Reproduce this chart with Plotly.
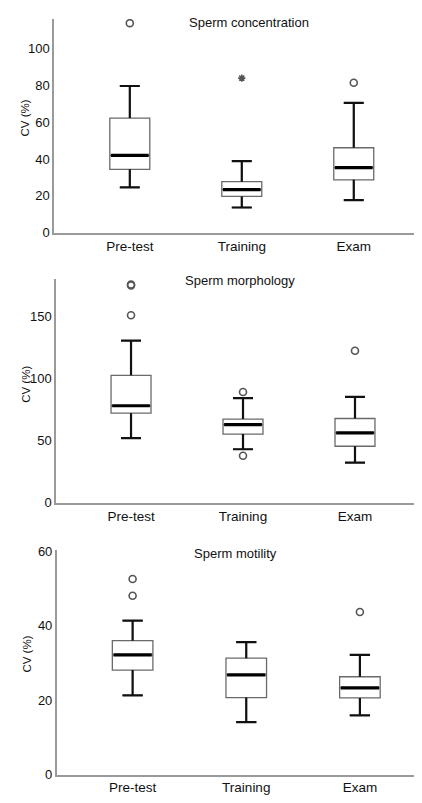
import plotly.graph_objects as go

categories = ["Pre-test", "Training", "Exam"]
xpos = [0, 1, 2]

# Sperm concentration
conc_lower = [24.6, 13.7, 17.7]
conc_q1 = [34.4, 19.7, 28.7]
conc_median = [42.0, 23.4, 35.3]
conc_q3 = [62.2, 27.7, 46.1]
conc_upper = [79.6, 38.8, 70.4]
conc_out_x = [0, 2]
conc_out_y = [113.7, 81.4]
conc_ext_x = [1]
conc_ext_y = [83.9]

# Sperm morphology
morph_lower = [52.2, 43.2, 32.4]
morph_q1 = [72.3, 55.4, 45.6]
morph_median = [78.3, 63.0, 56.4]
morph_q3 = [102.8, 67.5, 68.0]
morph_upper = [130.8, 84.4, 85.4]
morph_out_x = [0, 0, 0, 1, 1, 2]
morph_out_y = [175.4, 176.0, 151.3, 89.4, 38.0, 122.6]
morph_ext_x = []
morph_ext_y = []

# Sperm motility
mot_lower = [21.3, 14.1, 15.9]
mot_q1 = [28.1, 20.7, 20.6]
mot_median = [32.2, 26.8, 23.3]
mot_q3 = [36.0, 31.3, 26.3]
mot_upper = [41.4, 35.6, 32.2]
mot_out_x = [0, 0, 2]
mot_out_y = [52.6, 48.1, 43.7]
mot_ext_x = []
mot_ext_y = []

titles = ["Sperm concentration", "Sperm morphology", "Sperm motility"]
y_ranges = [[0, 116], [0, 180.4], [0, 60.5]]
y_ticks = [[0, 20, 40, 60, 80, 100], [0, 50, 100, 150], [0, 20, 40, 60]]

# page has an 8px body margin; figure sized so the page fits the window
OFF = 8
W, H = 406, 787
BOXW = 0.357
WHISK = 0.5
FONT = "Liberation Sans, Arial, sans-serif"

panels = [
    dict(lo=conc_lower, q1=conc_q1, med=conc_median, q3=conc_q3, up=conc_upper,
         ox=conc_out_x, oy=conc_out_y, ex=conc_ext_x, ey=conc_ext_y,
         xd=[54, 414], yd=[13, 231], xr=[-0.677, 2.538],
         title_xy=(249, 17), cv_xy=(25, 114.5)),
    dict(lo=morph_lower, q1=morph_q1, med=morph_median, q3=morph_q3, up=morph_upper,
         ox=morph_out_x, oy=morph_out_y, ex=morph_ext_x, ey=morph_ext_y,
         xd=[56, 414], yd=[278.3, 506.3], xr=[-0.670, 2.527],
         title_xy=(240, 280), cv_xy=(26, 386)),
    dict(lo=mot_lower, q1=mot_q1, med=mot_median, q3=mot_q3, up=mot_upper,
         ox=mot_out_x, oy=mot_out_y, ex=mot_ext_x, ey=mot_ext_y,
         xd=[56.7, 414], yd=[554, 783.3], xr=[-0.668, 2.476],
         title_xy=(235, 558), cv_xy=(27.5, 660.5)),
]


def px(x):
    return (x - OFF) / W


def py(y):
    return (H - (y - OFF)) / H


fig = go.Figure()
annotations = []
layout = {}

for k, p in enumerate(panels):
    sfx = "" if k == 0 else str(k + 1)
    xa, ya = "x" + sfx, "y" + sfx
    fig.add_trace(go.Box(
        x=xpos, q1=p["q1"], median=p["med"], q3=p["q3"],
        lowerfence=p["lo"], upperfence=p["up"],
        width=BOXW, whiskerwidth=WHISK,
        fillcolor="white", line=dict(color="#6a6a6a", width=1.3),
        boxpoints=False, xaxis=xa, yaxis=ya, showlegend=False, hoverinfo="skip"))
    # whiskers (black, thicker)
    wx, wy = [], []
    cap = BOXW * WHISK / 2
    for i in range(len(xpos)):
        xi = xpos[i]
        wx += [xi, xi, None, xi - cap, xi + cap, None,
               xi, xi, None, xi - cap, xi + cap, None]
        wy += [p["q3"][i], p["up"][i], None, p["up"][i], p["up"][i], None,
               p["q1"][i], p["lo"][i], None, p["lo"][i], p["lo"][i], None]
    fig.add_trace(go.Scatter(x=wx, y=wy, mode="lines",
                             line=dict(color="#111", width=2.2),
                             xaxis=xa, yaxis=ya, showlegend=False, hoverinfo="skip"))
    # medians (thick)
    mx, my = [], []
    for i in range(len(xpos)):
        xi = xpos[i]
        mx += [xi - BOXW / 2 + 0.01, xi + BOXW / 2 - 0.01, None]
        my += [p["med"][i], p["med"][i], None]
    fig.add_trace(go.Scatter(x=mx, y=my, mode="lines",
                             line=dict(color="#000", width=3.2),
                             xaxis=xa, yaxis=ya, showlegend=False, hoverinfo="skip"))
    fig.add_trace(go.Scatter(x=p["ox"], y=p["oy"], mode="markers",
                             marker=dict(symbol="circle-open", size=7, color="#555",
                                         line=dict(width=1.6, color="#555")),
                             xaxis=xa, yaxis=ya, showlegend=False, hoverinfo="skip"))
    if p["ex"]:
        fig.add_trace(go.Scatter(x=p["ex"], y=p["ey"], mode="markers",
                                 marker=dict(symbol="asterisk-open", size=6, color="#555",
                                             line=dict(width=1.6, color="#555")),
                                 xaxis=xa, yaxis=ya, showlegend=False, hoverinfo="skip"))

    layout["xaxis" + sfx] = dict(
        domain=[px(p["xd"][0]), min(1.0, px(p["xd"][1]))], range=p["xr"],
        tickvals=xpos, ticktext=categories, showgrid=False, zeroline=False,
        showline=True, linecolor="#9a9a9a", linewidth=1.5, ticks="",
        tickfont=dict(size=13.5, color="#111", family=FONT),
        anchor=ya, fixedrange=True)
    layout["yaxis" + sfx] = dict(
        domain=[py(p["yd"][1]), py(p["yd"][0])], range=y_ranges[k],
        tickvals=y_ticks[k], showgrid=False, zeroline=False,
        showline=True, linecolor="#9a9a9a", linewidth=1.5, ticks="",
        tickfont=dict(size=13, color="#111", family=FONT),
        anchor=xa, fixedrange=True)
    tx, ty = p["title_xy"]
    annotations.append(dict(text=titles[k], x=px(tx), y=py(ty),
                            xref="paper", yref="paper", showarrow=False,
                            xanchor="center", yanchor="middle",
                            font=dict(size=13, color="#111", family=FONT)))
    cx, cy = p["cv_xy"]
    annotations.append(dict(text="CV (%)", x=px(cx), y=py(cy),
                            xref="paper", yref="paper", showarrow=False,
                            xanchor="center", yanchor="middle", textangle=-90,
                            font=dict(size=11.5, color="#111", family=FONT)))

fig.update_layout(
    width=W, height=H, margin=dict(l=0, r=0, t=0, b=0),
    paper_bgcolor="white", plot_bgcolor="white",
    annotations=annotations, **layout)

fig.write_html("out.html")
